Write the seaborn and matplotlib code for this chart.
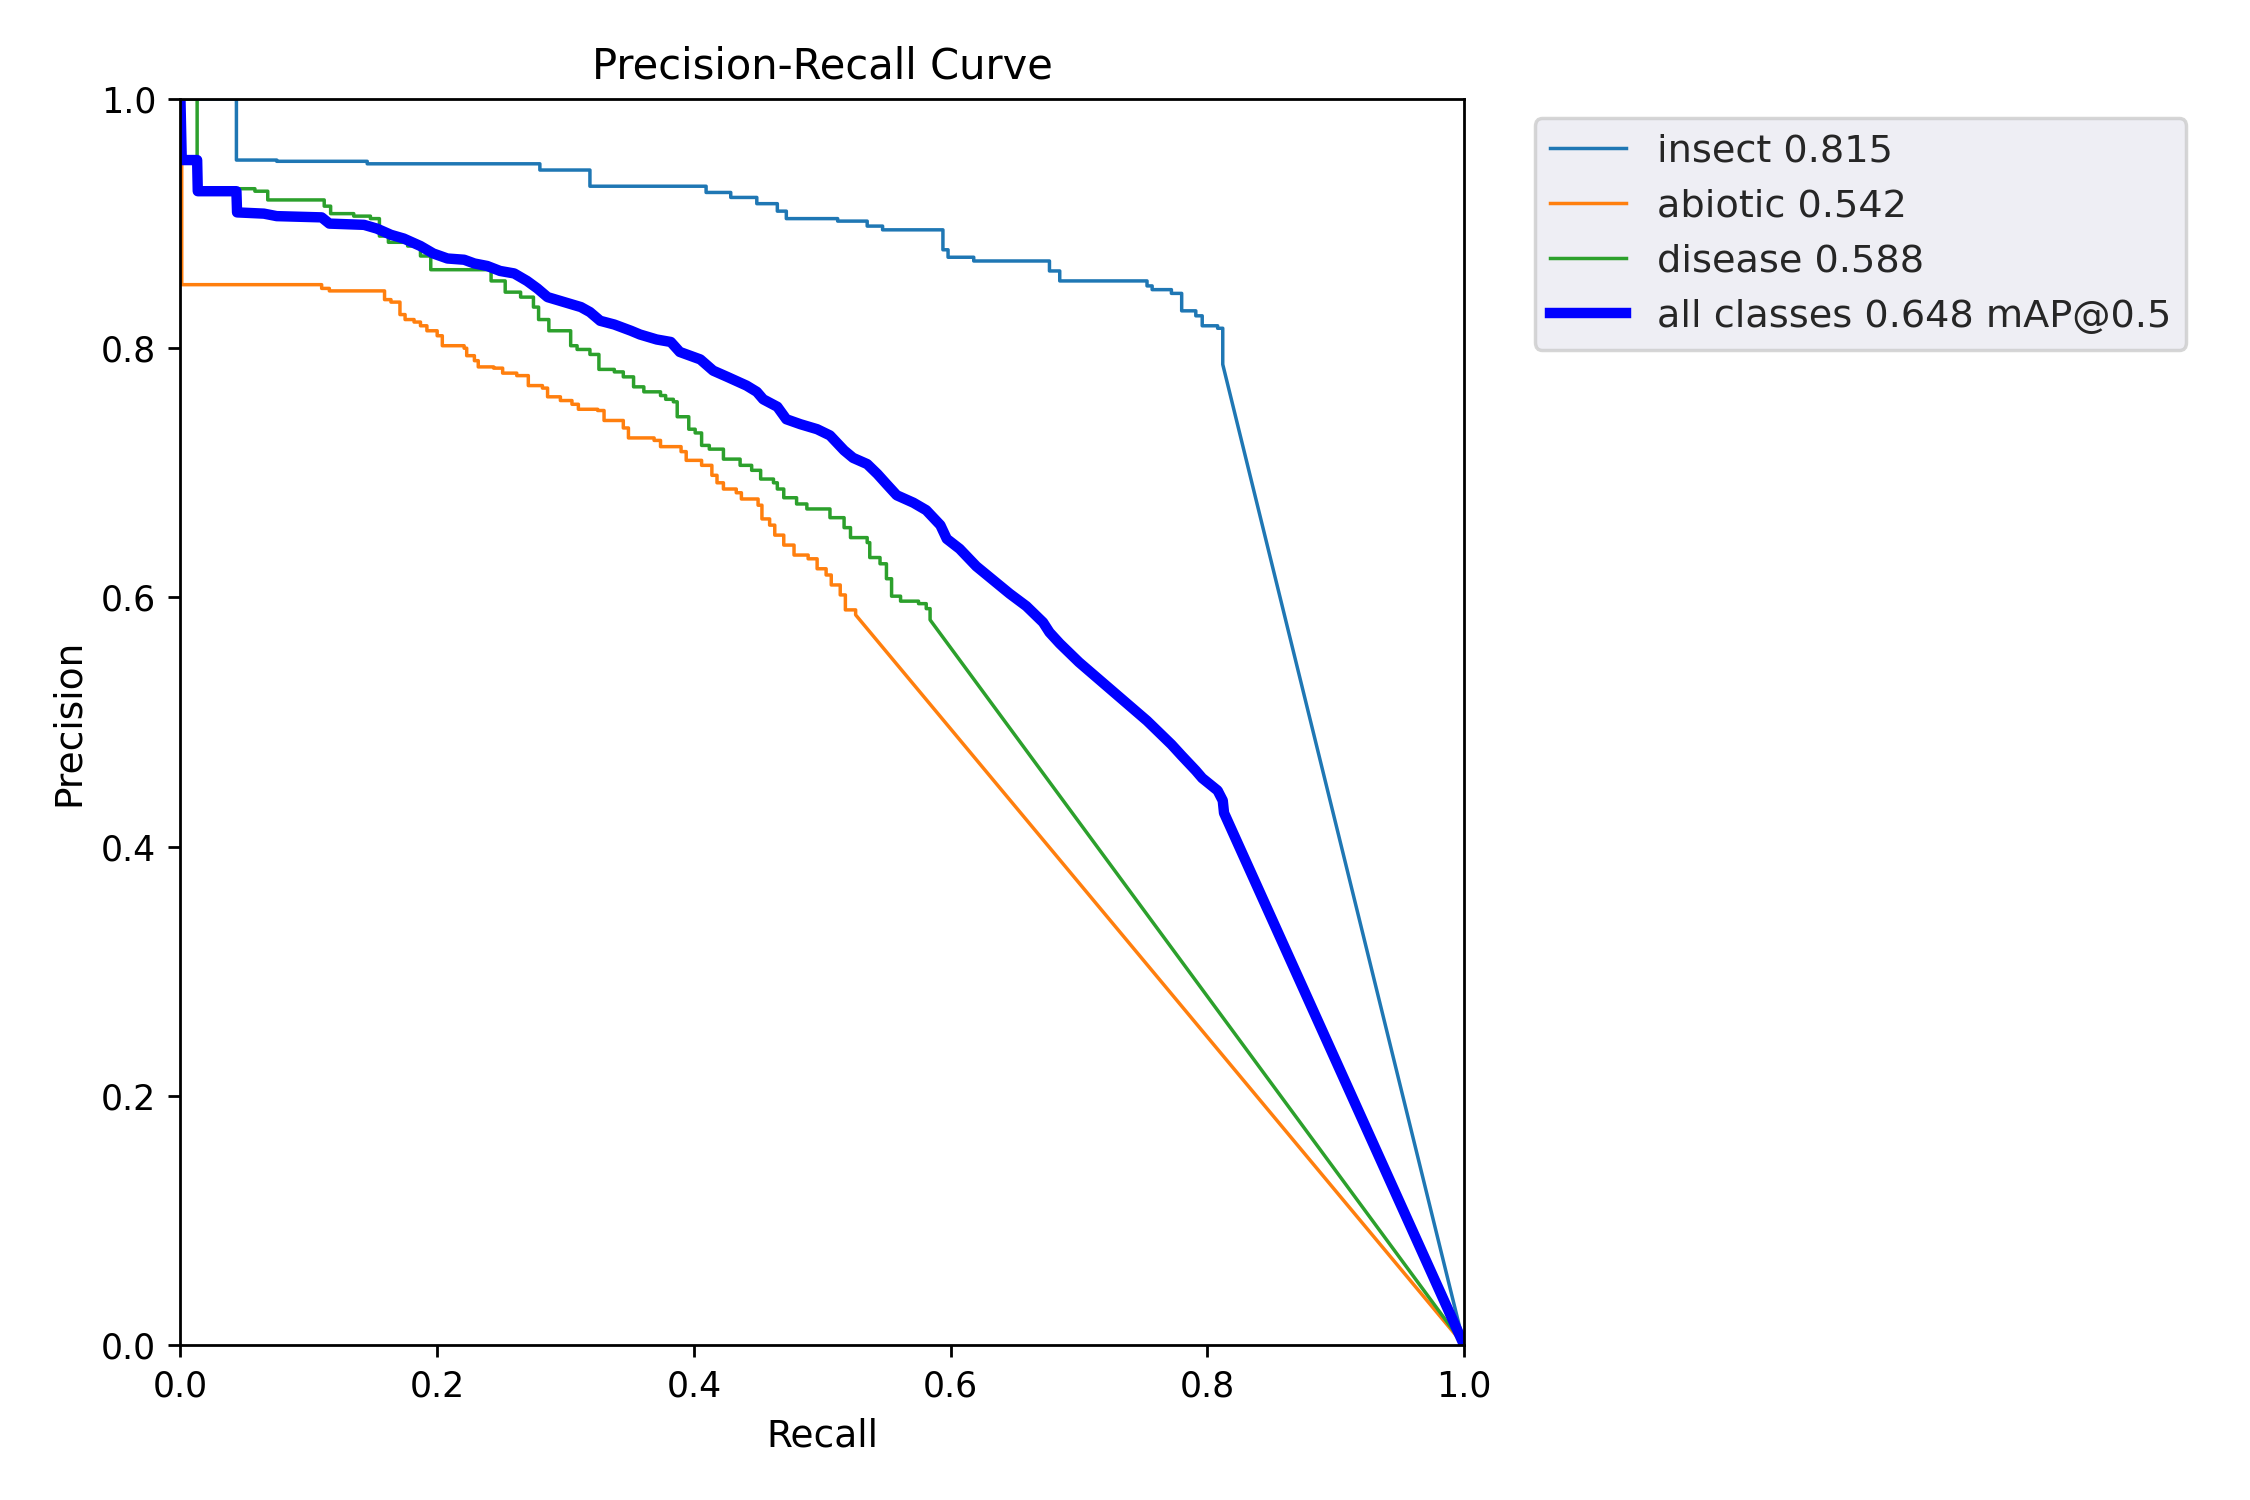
import matplotlib
matplotlib.use("Agg")
import matplotlib.pyplot as plt
import numpy as np
import seaborn as sns

# step curves per class: recall where precision changes, precision after the change
insect_recall = [0.0, 0.0436, 0.075, 0.1455, 0.280, 0.319, 0.4095, 0.4287, 0.449, 0.465,
                 0.472, 0.512, 0.535, 0.547, 0.594, 0.598, 0.618, 0.677, 0.685, 0.753,
                 0.757, 0.772, 0.780, 0.791, 0.796, 0.808, 0.812]
insect_prec = [1.0, 0.951, 0.950, 0.948, 0.943, 0.930, 0.925, 0.921, 0.916, 0.910,
               0.904, 0.902, 0.898, 0.895, 0.879, 0.873, 0.870, 0.862, 0.854, 0.850,
               0.847, 0.844, 0.830, 0.826, 0.818, 0.816, 0.787]

abiotic_recall = [0.0, 0.001, 0.110, 0.116, 0.159, 0.164, 0.171, 0.175, 0.182, 0.187,
                  0.192, 0.200, 0.204, 0.221, 0.223, 0.229, 0.232, 0.244, 0.251, 0.262,
                  0.271, 0.282, 0.286, 0.296, 0.305, 0.310, 0.325, 0.330, 0.345, 0.349,
                  0.369, 0.374, 0.390, 0.394, 0.406, 0.414, 0.418, 0.423, 0.433, 0.437,
                  0.450, 0.453, 0.459, 0.463, 0.470, 0.478, 0.489, 0.496, 0.503, 0.507,
                  0.514, 0.518, 0.526]
abiotic_prec = [1.0, 0.851, 0.848, 0.846, 0.839, 0.837, 0.827, 0.823, 0.821, 0.818,
                0.814, 0.810, 0.802, 0.800, 0.794, 0.790, 0.785, 0.784, 0.780, 0.778,
                0.770, 0.768, 0.761, 0.758, 0.755, 0.751, 0.750, 0.742, 0.736, 0.728,
                0.726, 0.721, 0.717, 0.710, 0.706, 0.698, 0.692, 0.687, 0.684, 0.679,
                0.674, 0.663, 0.658, 0.650, 0.642, 0.634, 0.631, 0.623, 0.618, 0.610,
                0.602, 0.590, 0.586]

disease_recall = [0.0, 0.013, 0.058, 0.068, 0.112, 0.117, 0.135, 0.148, 0.155, 0.162,
                  0.177, 0.187, 0.195, 0.242, 0.253, 0.265, 0.275, 0.279, 0.287, 0.304,
                  0.309, 0.319, 0.326, 0.338, 0.345, 0.353, 0.361, 0.374, 0.378, 0.384,
                  0.387, 0.396, 0.401, 0.406, 0.412, 0.423, 0.436, 0.445, 0.452, 0.462,
                  0.465, 0.470, 0.480, 0.488, 0.506, 0.517, 0.522, 0.535, 0.537, 0.545,
                  0.550, 0.554, 0.561, 0.575, 0.581, 0.584]
disease_prec = [1.0, 0.928, 0.926, 0.919, 0.914, 0.908, 0.906, 0.904, 0.890, 0.885,
                0.882, 0.874, 0.863, 0.854, 0.845, 0.841, 0.833, 0.823, 0.814, 0.802,
                0.799, 0.795, 0.783, 0.781, 0.777, 0.769, 0.765, 0.762, 0.759, 0.757,
                0.745, 0.735, 0.732, 0.722, 0.719, 0.711, 0.706, 0.702, 0.695, 0.692,
                0.687, 0.680, 0.675, 0.671, 0.664, 0.656, 0.648, 0.644, 0.632, 0.627,
                0.615, 0.601, 0.597, 0.595, 0.591, 0.582]

# mean curve over all classes
all_recall = [0.0, 0.001, 0.013, 0.0135, 0.0436, 0.0441, 0.065, 0.075, 0.110, 0.116,
              0.143, 0.153, 0.164, 0.174, 0.187, 0.197, 0.208, 0.221, 0.229, 0.239,
              0.249, 0.260, 0.270, 0.278, 0.286, 0.299, 0.312, 0.319, 0.327, 0.338,
              0.351, 0.358, 0.371, 0.382, 0.389, 0.405, 0.415, 0.426, 0.441, 0.449,
              0.454, 0.465, 0.472, 0.483, 0.496, 0.506, 0.517, 0.524, 0.535, 0.543,
              0.550, 0.558, 0.571, 0.581, 0.592, 0.597, 0.607, 0.620, 0.633, 0.646,
              0.659, 0.672, 0.677, 0.685, 0.700, 0.753, 0.757, 0.772, 0.780, 0.791,
              0.796, 0.808, 0.812, 0.813, 1.0]
all_prec = [1.0, 0.951, 0.951, 0.926, 0.926, 0.909, 0.908, 0.906, 0.905, 0.900,
            0.899, 0.896, 0.891, 0.888, 0.882, 0.876, 0.872, 0.871, 0.868, 0.866,
            0.862, 0.860, 0.854, 0.848, 0.841, 0.837, 0.833, 0.829, 0.822, 0.819,
            0.814, 0.811, 0.807, 0.805, 0.797, 0.791, 0.782, 0.777, 0.770, 0.765,
            0.759, 0.753, 0.743, 0.739, 0.735, 0.730, 0.718, 0.712, 0.707, 0.699,
            0.691, 0.682, 0.676, 0.670, 0.658, 0.647, 0.639, 0.625, 0.614, 0.603,
            0.593, 0.580, 0.572, 0.563, 0.548, 0.501, 0.497, 0.482, 0.473, 0.461,
            0.455, 0.445, 0.437, 0.427, 0.0]

class_names = ["insect", "abiotic", "disease"]
class_ap = [0.815, 0.542, 0.588]
map50 = 0.648


def step_vertices(rec, prec):
    # staircase through the change points, then straight down to (1, 0)
    xs, ys = [rec[0]], [prec[0]]
    for i in range(1, len(rec)):
        xs += [rec[i], rec[i]]
        ys += [prec[i - 1], prec[i]]
    xs.append(1.0)
    ys.append(0.0)
    return np.array(xs), np.array(ys)


fig, ax = plt.subplots(1, 1, figsize=(9, 6), dpi=250)
fig.subplots_adjust(left=0.0802, right=0.6507, bottom=0.1033, top=0.934)

palette = ["#1f77b4", "#ff7f0e", "#2ca02c"]
curves = [(insect_recall, insect_prec), (abiotic_recall, abiotic_prec),
          (disease_recall, disease_prec)]
for (rec, prec), name, ap, col in zip(curves, class_names, class_ap, palette):
    xs, ys = step_vertices(rec, prec)
    sns.lineplot(x=xs, y=ys, ax=ax, color=col, linewidth=1, sort=False,
                 estimator=None, label=f"{name} {ap:.3f}")

sns.lineplot(x=all_recall, y=all_prec, ax=ax, color="blue", linewidth=3,
             sort=False, estimator=None, label=f"all classes {map50:.3f} mAP@0.5")

ax.set_xlim(0, 1)
ax.set_ylim(0, 1)
ax.set_xlabel("Recall", fontsize=10.8)
ax.set_ylabel("Precision", fontsize=10.8)
ax.set_title("Precision-Recall Curve", fontsize=12)

leg = ax.legend(bbox_to_anchor=(1.04, 1), loc="upper left", fontsize=11,
                facecolor="#EAEAF2", edgecolor="#cccccc")
for t in leg.get_texts():
    t.set_color("#262626")

fig.savefig("out.png", dpi=250)
